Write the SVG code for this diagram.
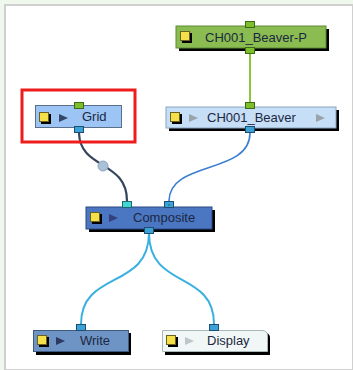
<svg xmlns="http://www.w3.org/2000/svg" width="353" height="370" viewBox="0 0 353 370">
<style>
.lbl{font-family:"Liberation Sans",Arial,sans-serif;font-size:13px;fill:#1c2840}
.shadow{fill:#000}
.ysq{fill:#f6e04a;stroke:#6a6020;stroke-width:1}
.ysh{fill:#000}
.pg{fill:#7cbf2a;stroke:#3d6a18;stroke-width:1}
.pb{fill:#3aa2d6;stroke:#1d4e70;stroke-width:1}
.pc{fill:#44d6d4;stroke:#1d6a70;stroke-width:1}
.wire{fill:none}
</style>
<rect x="0" y="0" width="353" height="370" fill="#f0f8ee"/>
<rect x="5" y="5" width="348" height="365" fill="#fff" stroke="#d0d0d0" stroke-width="2"/>
<g id="connectors">
<path class="wire" d="M250,53 L250,102" stroke="#8cc63c" stroke-width="2"/>
<path class="wire" d="M79,133 C80,170 127,160 127,201" stroke="#34465c" stroke-width="2.2"/>
<circle cx="103" cy="166" r="5" fill="#a9c1d9" stroke="#8ea4bc" stroke-width="1"/>
<path class="wire" d="M250,133 C250,175 169,160 169,201" stroke="#3a7ed0" stroke-width="1.6"/>
<path class="wire" d="M149,233 C149,290 81,270 81,324" stroke="#3ab0e0" stroke-width="2"/>
<path class="wire" d="M149,233 C149,290 214,270 214,324" stroke="#3ab0e0" stroke-width="2"/>
</g>
<g id="node-beaver-p">
<rect class="shadow" x="179" y="29" width="150" height="22"/>
<rect x="176" y="26" width="150" height="22" fill="#8abc52" stroke="#5e8a34" stroke-width="1"/>
<rect class="ysh" x="182" y="33" width="10" height="10"/>
<rect class="ysq" x="180.5" y="31.5" width="9" height="9"/>
<text class="lbl" x="205" y="42">CH001_Beaver-P</text>
<rect class="pg" x="245.5" y="21.5" width="9" height="6"/>
<rect class="pg" x="245.5" y="47.5" width="9" height="6"/>
</g>
<g id="node-grid">
<rect x="22" y="90" width="113" height="52" fill="none" stroke="#ee1c1c" stroke-width="3"/>
<rect x="35.5" y="105.5" width="86" height="22" fill="#9cc4f4" stroke="#5a6f8a" stroke-width="1"/>
<rect class="ysh" x="41" y="114" width="10" height="10"/>
<rect class="ysq" x="39.5" y="112.5" width="9" height="9"/>
<polygon points="59,114 68,118 59,122" fill="#344766"/>
<text class="lbl" x="82" y="121">Grid</text>
<rect class="pg" x="74.5" y="102.5" width="9" height="6"/>
<rect class="pb" x="74.5" y="126.5" width="9" height="6"/>
</g>
<g id="node-beaver">
<rect class="shadow" x="169" y="110" width="170" height="21"/>
<rect x="166" y="107" width="170" height="21" fill="#c6def6" stroke="#8aa4c0" stroke-width="1"/>
<rect class="ysh" x="172" y="114" width="10" height="10"/>
<rect class="ysq" x="170.5" y="112.5" width="9" height="9"/>
<polygon points="189,114 198,118 189,122" fill="#9aa2aa"/>
<text class="lbl" x="207" y="122">CH001_Beaver</text>
<polygon points="316,114 325,118 316,122" fill="#9aa2aa"/>
<rect class="pg" x="245.5" y="102.5" width="9" height="6"/>
<rect class="pb" x="245.5" y="126.5" width="9" height="6"/>
</g>
<g id="node-composite">
<rect class="shadow" x="89" y="210" width="126" height="22"/>
<rect x="86" y="207" width="126" height="22" fill="#4a76c2" stroke="#2a4a80" stroke-width="1"/>
<rect class="ysh" x="92" y="214" width="10" height="10"/>
<rect class="ysq" x="90.5" y="212.5" width="9" height="9"/>
<polygon points="109,214 118,218 109,222" fill="#34407a"/>
<text class="lbl" x="133" y="222">Composite</text>
<rect class="pc" x="122.5" y="201.5" width="9" height="6"/>
<rect class="pb" x="164.5" y="201.5" width="9" height="6"/>
<rect x="168.5" y="204.5" width="1" height="1" fill="#102030"/>
<rect class="pb" x="144.5" y="227.5" width="9" height="6"/>
</g>
<g id="node-write">
<rect class="shadow" x="36" y="333" width="95" height="22"/>
<rect x="33.5" y="330.5" width="95" height="21" fill="#6e94c6" stroke="#3e5a80" stroke-width="1"/>
<rect class="ysh" x="39" y="337" width="10" height="10"/>
<rect class="ysq" x="37.5" y="335.5" width="9" height="9"/>
<polygon points="56,337 65,341 56,345" fill="#2c3a60"/>
<text class="lbl" x="80" y="345">Write</text>
<rect class="pb" x="76.5" y="324.5" width="9" height="6"/>
</g>
<g id="node-display">
<path class="shadow" d="M165,333 H265 Q270,333 270,338 V355 H165 Z"/>
<path d="M162.5,330.5 H262 Q267.5,330.5 267.5,336 V351.5 H162.5 Z" fill="#f0f7f6" stroke="#a8b8b8" stroke-width="1"/>
<rect class="ysh" x="168" y="337" width="10" height="10"/>
<rect class="ysq" x="166.5" y="335.5" width="9" height="9"/>
<polygon points="185,337 194,341 185,345" fill="#c0c6c8"/>
<text class="lbl" x="207" y="345">Display</text>
<rect class="pb" x="209.5" y="324.5" width="9" height="6"/>
</g>
</svg>
